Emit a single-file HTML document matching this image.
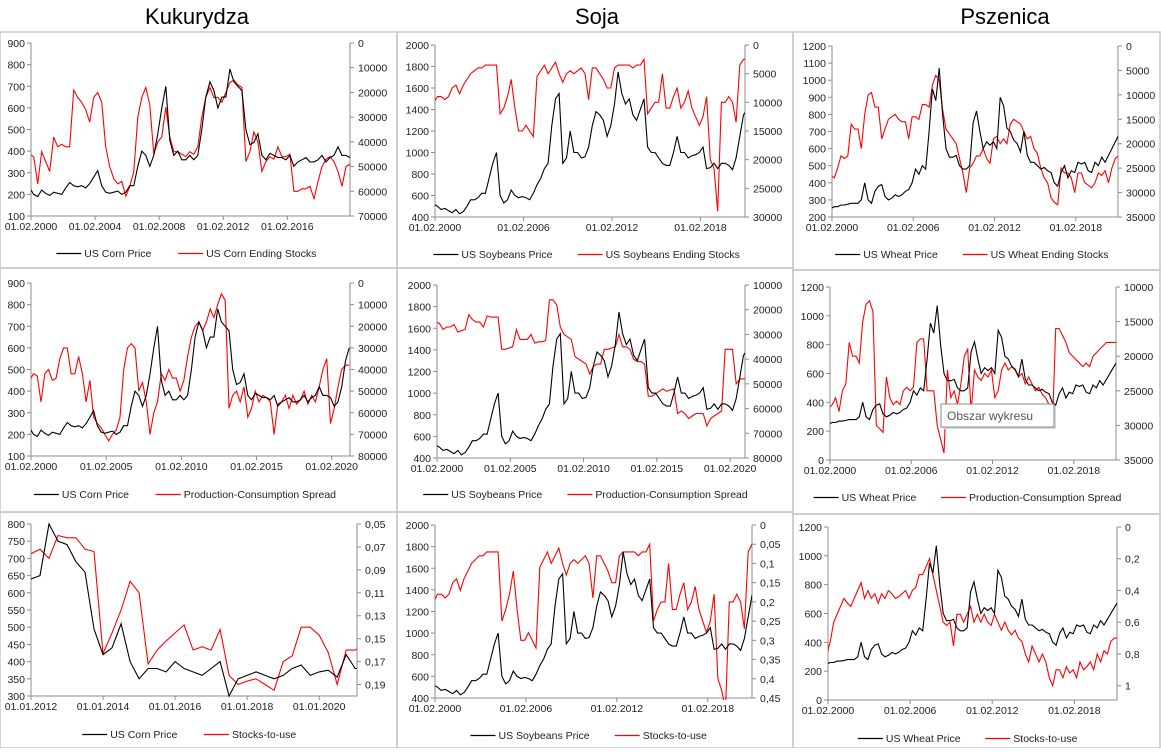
<!DOCTYPE html>
<html><head><meta charset="utf-8">
<style>
html,body{margin:0;padding:0;background:#fff;}
body{width:1161px;height:748px;overflow:hidden;font-family:"Liberation Sans",sans-serif;}
svg text{font-family:"Liberation Sans",sans-serif;}
</style></head>
<body>
<svg id="root" width="1161" height="748" xmlns="http://www.w3.org/2000/svg">
<rect x="0" y="0" width="1161" height="748" fill="#fff"/>
<text x="197" y="24" font-size="22" text-anchor="middle">Kukurydza</text>
<text x="597" y="24" font-size="22" text-anchor="middle">Soja</text>
<text x="1005" y="24" font-size="22" text-anchor="middle">Pszenica</text>
</svg>
<script>
// quarterly series from 2000 Q1
const cornPrice=[230,200,190,220,205,195,210,205,200,230,255,240,235,240,230,250,280,310,240,210,205,210,215,200,210,240,240,330,400,380,330,380,480,600,700,450,380,400,360,360,380,360,380,500,650,720,680,600,650,650,780,720,700,680,500,430,440,480,380,360,390,380,370,370,360,380,330,350,360,370,350,350,360,380,350,370,380,420,380,380,370,330,350,420,540,600];
const cornStocks=[45000,46000,57000,44000,48000,52000,38000,42000,41000,42000,42000,19000,22000,24000,27000,32000,22000,20000,24000,42000,50000,55000,57000,56000,62000,58000,52000,30000,22000,18000,25000,45000,40000,38000,26000,38000,44000,44000,45000,46000,44000,45000,42000,30000,22000,18000,22000,22000,24000,20000,16000,15000,17000,18000,48000,44000,36000,40000,52000,48000,46000,47000,42000,46000,46000,45000,60000,60000,59000,59000,58000,63000,56000,50000,47000,46000,48000,52000,58000,50000,49000,49000,49000,49000,49000,49000];
const cornSpread=[45000,42000,43000,55000,42000,40000,45000,44000,35000,30000,30000,42000,42000,34000,42000,55000,45000,62000,65000,67000,70000,73000,70000,68000,62000,40000,30000,28000,30000,50000,46000,55000,70000,60000,55000,42000,45000,40000,44000,44000,50000,45000,34000,25000,20000,18000,22000,18000,12000,16000,10000,5000,8000,58000,52000,50000,55000,48000,62000,58000,50000,55000,52000,53000,55000,70000,56000,55000,52000,58000,52000,56000,54000,50000,56000,52000,55000,48000,40000,35000,65000,58000,48000,40000,38000,38000];
// corn bottom panel: quarterly from 2012 Q1
const cornPrice12=[640,650,800,750,740,690,660,495,420,440,510,400,350,380,380,370,400,380,370,360,380,400,300,350,360,370,360,350,360,380,390,360,370,375,355,420,380,380,360,310,330,320,400,540,555];
const cornStu12=[0.076,0.072,0.08,0.06,0.062,0.062,0.072,0.074,0.163,0.145,0.125,0.10,0.11,0.172,0.16,0.152,0.145,0.138,0.16,0.157,0.16,0.142,0.182,0.19,0.187,0.185,0.19,0.195,0.17,0.165,0.14,0.14,0.147,0.162,0.19,0.16,0.16,0.155,0.17,0.175,0.165,0.20,0.14,0.125,0.122];
const soyPrice=[520,500,470,480,460,440,470,430,450,500,560,560,580,620,620,760,900,1000,600,530,560,650,600,580,590,580,560,620,700,760,850,900,1250,1500,1550,900,950,1200,1000,1000,950,960,1050,1250,1380,1350,1300,1150,1250,1450,1750,1550,1450,1500,1350,1300,1400,1500,1050,1000,1000,950,900,880,880,1000,1150,1000,1000,950,970,980,1000,1050,850,860,900,850,900,900,880,840,950,1150,1350,1400];
const soyStocks=[10000,9000,9000,9500,9000,7500,7000,8500,7000,6000,5000,4500,4000,4000,3500,3500,3500,3500,12000,11000,9000,6000,11000,15000,15000,14000,15000,16000,5500,4500,3500,5000,4000,3000,5000,6500,5000,4500,5000,4500,4000,5000,9500,4000,4000,5000,6000,7500,7500,4000,3500,3500,3500,3500,4000,3500,3500,2500,12000,11000,10000,10000,5000,11000,11000,9000,7500,11000,10000,8000,11000,12500,14000,12500,9000,20000,21500,29000,10000,10000,9000,10000,13500,3500,2500,2500];
const soySpread=[25000,25500,28000,27000,27000,26000,29000,28500,28000,22000,24000,25000,25000,27000,22500,23000,23000,23000,36000,36000,35500,35000,28000,32000,32000,32000,30000,33500,33000,33000,32500,16000,16000,18000,27000,30000,31000,32000,39000,40000,41000,42000,46000,43000,42000,42000,36000,36000,35500,35000,30000,35000,35000,36000,40000,41000,41000,42000,55000,55000,54000,53000,52000,53000,52500,52000,62000,61000,62000,64000,63000,62000,62000,62000,67000,64000,63000,62000,61000,36000,36000,36000,50000,48000,48000,48000];
const soyStu=[0.2,0.18,0.18,0.19,0.18,0.15,0.14,0.17,0.14,0.12,0.1,0.09,0.08,0.08,0.07,0.07,0.07,0.07,0.25,0.22,0.18,0.12,0.22,0.3,0.3,0.28,0.3,0.32,0.11,0.09,0.07,0.1,0.08,0.06,0.1,0.13,0.1,0.09,0.1,0.09,0.08,0.1,0.19,0.08,0.08,0.1,0.12,0.15,0.15,0.08,0.07,0.07,0.07,0.07,0.08,0.07,0.07,0.05,0.25,0.22,0.2,0.2,0.1,0.22,0.22,0.18,0.15,0.22,0.2,0.16,0.22,0.25,0.28,0.25,0.18,0.4,0.43,0.48,0.2,0.2,0.18,0.2,0.27,0.07,0.05,0.05];
const wheatPrice=[250,260,260,270,270,275,280,280,280,300,400,300,280,350,380,390,320,300,310,330,320,330,350,360,400,480,450,500,480,700,950,880,1070,800,600,550,550,560,500,480,480,500,750,820,700,600,640,620,640,600,900,850,720,700,650,630,580,700,560,520,520,500,480,490,470,460,400,380,460,500,430,470,460,520,510,520,470,460,520,500,550,520,560,600,640,680];
const wheatStocks=[26500,27000,25000,22500,23000,22500,16000,17000,17000,21000,14000,10000,9500,12500,12500,19000,17000,15000,14500,14000,15000,15500,15500,19000,14500,14500,15000,12000,12000,12500,8000,6000,7000,13000,17000,18000,19000,20000,23000,26000,30000,25000,24000,22500,22500,21000,23000,24000,19000,18500,20000,19000,20000,16000,15000,15500,16000,17500,19000,18500,21000,22000,25000,27000,28000,31000,32000,32500,25000,26000,26000,27000,30000,26000,26000,28000,28500,29000,28000,26000,26500,25500,28000,25000,23000,22500];
const wheatSpread=[27500,27000,26000,28000,25000,24000,18000,20000,20000,21000,15000,12500,12000,13500,30000,30500,31000,23000,26000,27000,26500,27000,25000,24500,25000,24500,18000,17500,17500,25000,25000,25000,30000,32000,34000,22000,26000,25000,27000,24000,20000,19000,28000,22000,23000,23500,22500,23000,22000,26000,25000,22000,21000,22000,21500,22000,23000,22500,24000,23000,24000,25000,24500,25500,26000,27000,30500,16000,16000,17000,18000,19500,20000,20500,21000,21500,21000,21500,20000,19500,19000,18500,18000,18000,18000,18000];
const wheatStu=[0.8,0.72,0.6,0.55,0.5,0.45,0.48,0.5,0.45,0.4,0.35,0.45,0.4,0.45,0.42,0.48,0.42,0.45,0.4,0.42,0.45,0.44,0.42,0.4,0.45,0.4,0.38,0.3,0.3,0.25,0.2,0.3,0.4,0.5,0.6,0.62,0.6,0.75,0.55,0.55,0.6,0.55,0.5,0.6,0.55,0.6,0.55,0.6,0.62,0.55,0.6,0.65,0.6,0.65,0.68,0.65,0.7,0.72,0.8,0.85,0.75,0.8,0.85,0.8,0.85,0.95,1.0,0.9,0.9,0.95,0.88,0.92,0.9,0.95,0.85,0.9,0.88,0.85,0.9,0.8,0.85,0.78,0.8,0.72,0.7,0.7];

const NS='http://www.w3.org/2000/svg';
const root=document.getElementById('root');
function mk(tag,attrs,parent){const e=document.createElementNS(NS,tag);for(const k in attrs)e.setAttribute(k,attrs[k]);(parent||root).appendChild(e);return e;}
function rng(a,b,s){const o=[];for(let v=a;v<=b+1e-9;v+=s)o.push(Math.round(v*1000)/1000);return o;}
function fmtNum(v){return String(v).replace('.',',');}

function panel(c){
  const g=mk('g',{});
  
  
  const border=mk('rect',{x:c.bx,y:c.by,width:c.bw,height:c.bh,fill:'none',stroke:'#c8c8c8','stroke-width':1.5},g);
  
  
  const L=c.l,R=c.r,T=c.t,B=c.b;
  const xs=t=>L+(t-c.xmin)/(c.xmax-c.xmin)*(R-L);
  const yl=v=>B-(v-c.lmin)/(c.lmax-c.lmin)*(B-T);
  const yr=v=>T+(v-c.rmin)/(c.rmax-c.rmin)*(B-T);
  // axes
  const ax=mk('path',{d:`M${L},${T}V${B}H${R}V${T}`,fill:'none',stroke:'#8c8c8c','stroke-width':1},g);
  
  
  c.lticks.forEach(v=>{const y=yl(v);if(y<T-1)return;
    mk('line',{x1:L-4,x2:L,y1:y,y2:y,stroke:'#8c8c8c'},g);
    const t=mk('text',{x:L-6,y:y+4,'font-size':10.5,'text-anchor':'end',fill:'#222'},g);t.textContent=v;
    
    });
  c.rticks.forEach(v=>{const y=yr(v);if(y>B+1)return;
    mk('line',{x1:R,x2:R+4,y1:y,y2:y,stroke:'#8c8c8c'},g);
    const t=mk('text',{x:R+8,y:y+4,'font-size':10.5,fill:'#222'},g);t.textContent=fmtNum(v);
    
    });
  c.xticks.forEach(yv=>{const x=xs(yv+c.xoff);
    mk('line',{x1:x,x2:x,y1:B,y2:B+4,stroke:'#8c8c8c'},g);
    const t=mk('text',{x:x,y:B+14,'font-size':10.5,'text-anchor':'middle',fill:'#222'},g);t.textContent=c.prefix+yv;
    
    });
  const clipId='clip'+c.name;
  const cp=mk('clipPath',{id:clipId},g);mk('rect',{x:L,y:T-2,width:R-L,height:B-T+4},cp);
  function line(arr,start,yf,color,nm){
    let d='';arr.forEach((v,i)=>{const x=xs(start+i*0.25),y=yf(v);d+=(i?'L':'M')+x.toFixed(1)+','+y.toFixed(1);});
    const p=mk('path',{d:d,fill:'none',stroke:color,'stroke-width':1.1,'clip-path':`url(#${clipId})`},g);
    
    
  }
  line(c.red,c.start,yr,'#ff0000','series-red');
  line(c.black,c.start,yl,'#000','series-black');
  // legend
  const w1=c.leg[0].length*5.6,w2=c.leg[1].length*5.6;
  const tot=25+4+w1+20+25+4+w2;let x0=(L+R)/2-tot/2;
  const lg=mk('g',{},g);
  
  
  [[c.leg[0],'#000',w1],[c.leg[1],'#ff0000',w2]].forEach(([s,col,w])=>{
    mk('line',{x1:x0,x2:x0+25,y1:c.ly-3.5,y2:c.ly-3.5,stroke:col,'stroke-width':1.3},lg);
    const t=mk('text',{x:x0+28,y:c.ly,'font-size':10.5,fill:'#222'},lg);t.textContent=s;
    
    
    x0+=25+4+w+20;});
}
const XO=1/12;
panel({name:'corn-stocks',bx:0,by:32,bw:397,bh:236,l:31,r:350,t:43,b:216,xmin:2000+XO,xmax:2020,xoff:XO,prefix:'01.02.',xticks:[2000,2004,2008,2012,2016],lmin:100,lmax:900,lticks:rng(100,900,100),rmin:0,rmax:70000,rticks:rng(0,70000,10000),start:2000,black:cornPrice,red:cornStocks,leg:['US Corn Price','US Corn Ending Stocks'],ly:257});
panel({name:'soy-stocks',bx:397,by:32,bw:396,bh:236,l:435,r:745,t:45,b:217,xmin:2000+XO,xmax:2021.1,xoff:XO,prefix:'01.02.',xticks:[2000,2006,2012,2018],lmin:400,lmax:2000,lticks:rng(400,2000,200),rmin:0,rmax:30000,rticks:rng(0,30000,5000),start:2000,black:soyPrice,red:soyStocks,leg:['US Soybeans Price','US Soybeans Ending Stocks'],ly:258});
panel({name:'wheat-stocks',bx:793,by:32,bw:367,bh:238,l:832,r:1118,t:46,b:217,xmin:2000+XO,xmax:2021.2,xoff:XO,prefix:'01.02.',xticks:[2000,2006,2012,2018],lmin:200,lmax:1200,lticks:rng(200,1200,100),rmin:0,rmax:35000,rticks:rng(0,35000,5000),start:2000,black:wheatPrice,red:wheatStocks,leg:['US Wheat Price','US Wheat Ending Stocks'],ly:258});
panel({name:'corn-spread',bx:0,by:268,bw:397,bh:244,l:31,r:350,t:283,b:456,xmin:2000+XO,xmax:2021.3,xoff:XO,prefix:'01.02.',xticks:[2000,2005,2010,2015,2020],lmin:100,lmax:900,lticks:rng(100,900,100),rmin:0,rmax:80000,rticks:rng(0,80000,10000),start:2000,black:cornPrice,red:cornSpread,leg:['US Corn Price','Production-Consumption Spread'],ly:498});
panel({name:'soy-spread',bx:397,by:268,bw:396,bh:244,l:437,r:745,t:285,b:458,xmin:2000+XO,xmax:2021.1,xoff:XO,prefix:'01.02.',xticks:[2000,2005,2010,2015,2020],lmin:400,lmax:2000,lticks:rng(400,2000,200),rmin:10000,rmax:80000,rticks:rng(10000,80000,10000),start:2000,black:soyPrice,red:soySpread,leg:['US Soybeans Price','Production-Consumption Spread'],ly:498});
panel({name:'wheat-spread',bx:793,by:270,bw:367,bh:244,l:830,r:1116,t:287,b:460,xmin:2000+XO,xmax:2021.2,xoff:XO,prefix:'01.02.',xticks:[2000,2006,2012,2018],lmin:0,lmax:1200,lticks:rng(0,1200,200),rmin:10000,rmax:35000,rticks:rng(10000,35000,5000),start:2000,black:wheatPrice,red:wheatSpread,leg:['US Wheat Price','Production-Consumption Spread'],ly:501});
panel({name:'corn-stocks-to-use',bx:0,by:512,bw:397,bh:236,l:31,r:357,t:524,b:696,xmin:2012,xmax:2021.05,xoff:0,prefix:'01.01.',xticks:[2012,2014,2016,2018,2020],lmin:300,lmax:800,lticks:rng(300,800,50),rmin:0.05,rmax:0.2,rticks:[0.05,0.07,0.09,0.11,0.13,0.15,0.17,0.19],start:2012,black:cornPrice12,red:cornStu12,leg:['US Corn Price','Stocks-to-use'],ly:738});
panel({name:'soy-stocks-to-use',bx:397,by:512,bw:396,bh:236,l:435,r:752,t:525,b:698,xmin:2000+XO,xmax:2021.0,xoff:XO,prefix:'01.02.',xticks:[2000,2006,2012,2018],lmin:400,lmax:2000,lticks:rng(400,2000,200),rmin:0,rmax:0.45,rticks:rng(0,0.45,0.05),start:2000,black:soyPrice,red:soyStu,leg:['US Soybeans Price','Stocks-to-use'],ly:739});
panel({name:'wheat-stocks-to-use',bx:793,by:514,bw:367,bh:234,l:828,r:1117,t:527,b:700,xmin:2000+XO,xmax:2021.2,xoff:XO,prefix:'01.02.',xticks:[2000,2006,2012,2018],lmin:0,lmax:1200,lticks:rng(0,1200,200),rmin:0,rmax:1.09,rticks:[0,0.2,0.4,0.6,0.8,1],start:2000,black:wheatPrice,red:wheatStu,leg:['US Wheat Price','Stocks-to-use'],ly:742});
// tooltip
const tip=mk('g',{});


mk('rect',{x:943,y:406,width:113,height:23,fill:'#d8d8d8'},tip);
mk('rect',{x:941,y:404,width:113,height:23,fill:'#fff',stroke:'#888'},tip);
const tt=mk('text',{x:947,y:420,'font-size':12,fill:'#555'},tip);tt.textContent='Obszar wykresu';
</script>
</body></html>
